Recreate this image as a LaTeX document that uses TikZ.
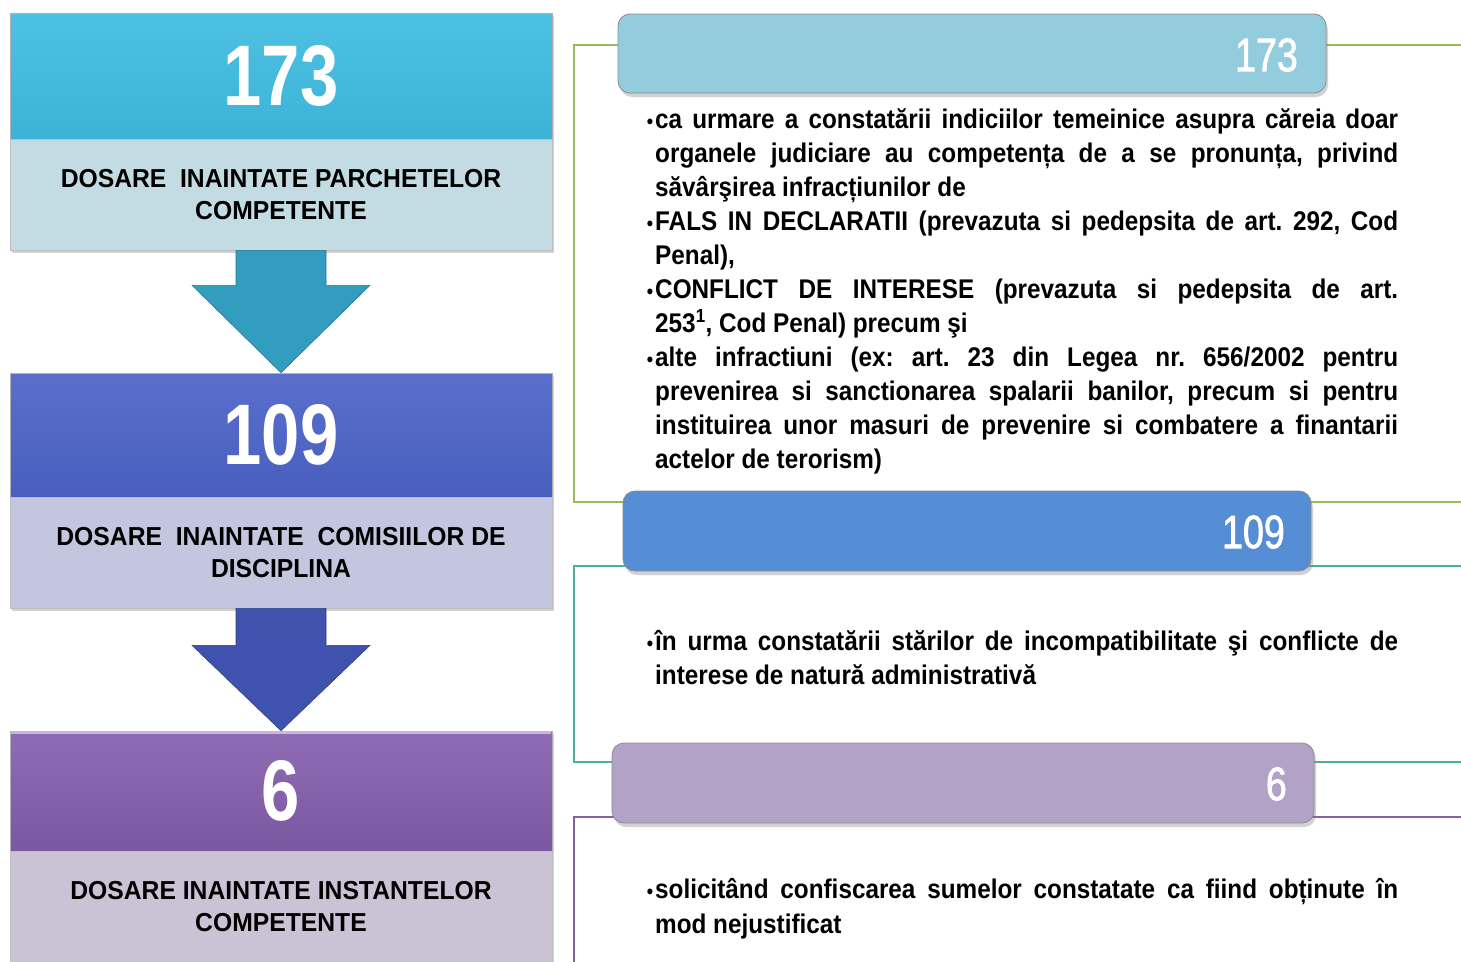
\documentclass[tikz,border=0pt]{standalone}
\usepackage{fontspec}
\setmainfont{Liberation Sans}
\newfontfamily\bodyf{Liberation Sans}[FakeStretch=0.9]
\newfontfamily\labf{Liberation Sans}[FakeStretch=0.95]
\newfontfamily\numf{Liberation Sans}[FakeStretch=0.8]
\newfontfamily\hnumf{Liberation Sans}[FakeStretch=0.8, FakeBold=1.5]
\usetikzlibrary{shadows,calc}
\definecolor{cyanH}{HTML}{3EBCE2}
\definecolor{cyanL}{HTML}{C3DBE3}
\definecolor{blueH}{HTML}{4C63C8}
\definecolor{blueL}{HTML}{C4C6E0}
\definecolor{purH}{HTML}{865FAF}
\definecolor{purL}{HTML}{CAC3D6}
\definecolor{arrA}{HTML}{339DBF}
\definecolor{arrB}{HTML}{3F53AE}
\definecolor{hdA}{HTML}{93CDDD}
\definecolor{hdB}{HTML}{558ED5}
\definecolor{hdC}{HTML}{B3A2C7}
\definecolor{frGreen}{HTML}{9BBB59}
\definecolor{frTeal}{HTML}{4EAE9E}
\definecolor{frPur}{HTML}{8064A2}
\newcommand\bul{\llap{{\fontsize{20}{20}\selectfont\textbullet}\hspace{2pt}}}
\frenchspacing
\begin{document}
\begin{tikzpicture}[x=1pt,y=-1pt,
  numbox/.style={rectangle, minimum width=542pt, inner sep=0pt, draw=black!30, line width=0.6pt,
    text=white, font=\numf\bfseries\fontsize{86}{86}\selectfont,
    drop shadow={shadow xshift=2pt, shadow yshift=-3pt, opacity=0.35}},
  labbox/.style={rectangle, minimum width=542pt, minimum height=111pt, inner sep=0pt, draw=black!25,
    line width=0.6pt, align=center, font=\labf\bfseries\fontsize{26}{32}\selectfont,
    drop shadow={shadow xshift=2pt, shadow yshift=-3pt, opacity=0.35}},
  blockarrow/.style={line width=0.6pt},
  frame/.style={line width=2.4pt},
  hdr/.style={rectangle, rounded corners=12pt, draw=black!45, line width=0.8pt, inner sep=0pt,
    drop shadow={shadow xshift=2pt, shadow yshift=-4pt, opacity=0.35}},
  hnum/.style={inner sep=0pt, text=white, font=\hnumf\fontsize{47}{47}\selectfont},
  jline/.style={anchor=base west, inner sep=0pt, font=\bodyf\bfseries\fontsize{27}{27}\selectfont},
]
\useasboundingbox (0,0) rectangle (1461,961);
\fill[white] (0,0) rectangle (1461,961);

% ---------- right frames ----------
\draw[frame, draw=frGreen] (1480,45) -- (574,45) -- (574,502) -- (1480,502);
\draw[frame, draw=frTeal] (1480,566) -- (574,566) -- (574,762) -- (1480,762);
\draw[frame, draw=frPur] (1480,817) -- (574,817) -- (574,990);

% ---------- left column ----------
\node[numbox, top color=cyanH!92!white, bottom color=cyanH!95!black, minimum height=126pt] (h1) at (281,76) {173};
\node[labbox, fill=cyanL] (l1) at (281,194.5) {DOSARE\ \ INAINTATE PARCHETELOR\\COMPETENTE};

\node[numbox, top color=blueH!92!white, bottom color=blueH!95!black, minimum height=124pt] (h2) at (281,435) {109};
\node[labbox, fill=blueL] (l2) at (281,552.5) {DOSARE\ \ INAINTATE\ \ COMISIILOR DE\\DISCIPLINA};

\node[numbox, top color=purH!92!white, bottom color=purH!92!black, minimum height=120pt] (h3) at (281,791) {6};
\draw[line width=3pt, draw=purH!45!white] ($(h3.north west)+(1,2)$) -- ($(h3.north east)+(-1,2)$);
\node[labbox, fill=purL, minimum height=112pt] (l3) at (281,907) {DOSARE INAINTATE INSTANTELOR\\COMPETENTE};

% block arrows
\filldraw[blockarrow, fill=arrA, draw=arrA!75!black]
  ($(l1.south)+(-45,0)$) -- ($(l1.south)+(45,0)$) -- ($(l1.south)+(45,35)$) -- ($(l1.south)+(89,35)$)
  -- (h2.north) -- ($(l1.south)+(-89,35)$) -- ($(l1.south)+(-45,35)$) -- cycle;
\filldraw[blockarrow, fill=arrB, draw=arrB!75!black]
  ($(l2.south)+(-45,0)$) -- ($(l2.south)+(45,0)$) -- ($(l2.south)+(45,37)$) -- ($(l2.south)+(89,37)$)
  -- (h3.north) -- ($(l2.south)+(-89,37)$) -- ($(l2.south)+(-45,37)$) -- cycle;

% ---------- right headers ----------
\node[hdr, fill=hdA, minimum width=708pt, minimum height=79pt] (r1) at (972,53.5) {};
\node[hnum, anchor=east] (r1n) at (1298,55) {173};
\node[hdr, fill=hdB, minimum width=688pt, minimum height=80pt] (r2) at (967,531) {};
\node[hnum, anchor=east] (r2n) at (1285,532) {109};
\node[hdr, fill=hdC, minimum width=702pt, minimum height=80pt] (r3) at (963,783) {};
\node[hnum, anchor=east] (r3n) at (1287,784) {6};

% ---------- body text panel 1 ----------
\node[jline] (t1) at (655,128) {\bul\makebox[743pt][s]{ca urmare a constatării indiciilor temeinice asupra căreia doar}};
\node[jline] (t2) at (655,162) {\makebox[743pt][s]{organele judiciare au competența de a se pronunța, privind}};
\node[jline] (t3) at (655,196) {săvârşirea infracțiunilor de};
\node[jline] (t4) at (655,230) {\bul\makebox[743pt][s]{FALS IN DECLARATII (prevazuta si pedepsita de art. 292, Cod}};
\node[jline] (t5) at (655,264) {Penal),};
\node[jline] (t6) at (655,298) {\bul\makebox[743pt][s]{CONFLICT DE INTERESE (prevazuta si pedepsita de art.}};
\node[jline] (t7) at (655,332) {253\textsuperscript{1}, Cod Penal) precum şi};
\node[jline] (t8) at (655,366) {\bul\makebox[743pt][s]{alte infractiuni (ex: art. 23 din Legea nr. 656/2002 pentru}};
\node[jline] (t9) at (655,400) {\makebox[743pt][s]{prevenirea si sanctionarea spalarii banilor, precum si pentru}};
\node[jline] (t10) at (655,434) {\makebox[743pt][s]{instituirea unor masuri de prevenire si combatere a finantarii}};
\node[jline] (t11) at (655,468) {actelor de terorism)};

% ---------- body text panel 2 ----------
\node[jline] (u1) at (655,650) {\bul\makebox[743pt][s]{în urma constatării stărilor de incompatibilitate şi conflicte de}};
\node[jline] (u2) at (655,684) {interese de natură administrativă};

% ---------- body text panel 3 ----------
\node[jline] (v1) at (655,898) {\bul\makebox[743pt][s]{solicitând confiscarea sumelor constatate ca fiind obținute în}};
\node[jline] (v2) at (655,933) {mod nejustificat};
\end{tikzpicture}
\end{document}
